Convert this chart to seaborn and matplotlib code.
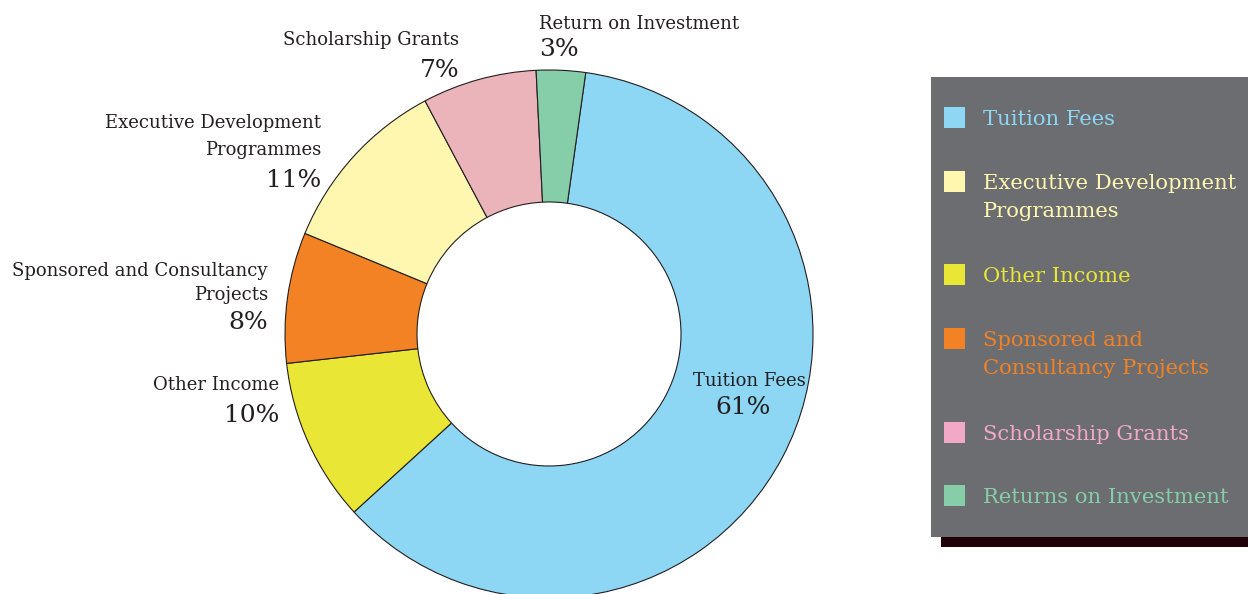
import matplotlib
matplotlib.use("Agg")
import matplotlib.pyplot as plt
from matplotlib.patches import Rectangle
import seaborn as sns

# ---- data ----
categories = ["Tuition Fees", "Other Income", "Sponsored and Consultancy Projects",
              "Executive Development Programmes", "Scholarship Grants", "Return on Investment"]
shares = [61, 10, 8, 11, 7, 3]
slice_colors = ["#8dd7f5", "#e9e635", "#f28223", "#fff7b0", "#ebb4ba", "#86cdaa"]

legend_labels = ["Tuition Fees", "Executive Development\nProgrammes", "Other Income",
                 "Sponsored and\nConsultancy Projects", "Scholarship Grants",
                 "Returns on Investment"]
legend_colors = ["#8dd7f5", "#fff7b0", "#e9e635", "#f28223", "#f2a8c9", "#86cdaa"]

sns.set_theme(style="white")
plt.rcParams["font.family"] = ["DejaVu Serif"]

W, H = 1248, 594
fig = plt.figure(figsize=(W / 100, H / 100), dpi=100)
ax = fig.add_axes([0, 0, 1, 1])

def Y(py):
    return H - py

cx, cy, R = 549, 334, 264
ax.pie(shares, colors=slice_colors, startangle=82, counterclock=False,
       center=(cx, Y(cy)), radius=R, frame=True,
       wedgeprops=dict(width=R * 0.5, edgecolor="#231f20", linewidth=0.8))
ax.set_xlim(0, W)
ax.set_ylim(0, H)
ax.set_aspect("auto")
ax.axis("off")

tc = "#231f20"
fs_lab = 13
fs_pct = 18

def lab(x, base, s, ha, size):
    ax.text(x, Y(base), s, ha=ha, va="baseline", fontsize=size, color=tc)

# Scholarship
lab(459, 45, "Scholarship Grants", "right", fs_lab)
lab(459, 77, f"{shares[4]}%", "right", fs_pct)
# Executive
lab(321, 128, "Executive Development", "right", fs_lab)
lab(321, 155, "Programmes", "right", fs_lab)
lab(321, 187, f"{shares[3]}%", "right", fs_pct)
# Sponsored
lab(268, 276, "Sponsored and Consultancy", "right", fs_lab)
lab(268, 300, "Projects", "right", fs_lab)
lab(268, 329, f"{shares[2]}%", "right", fs_pct)
# Other income
lab(279, 390, "Other Income", "right", fs_lab)
lab(279, 422, f"{shares[1]}%", "right", fs_pct)
# Tuition
lab(749, 386, "Tuition Fees", "center", fs_lab)
lab(743, 414, f"{shares[0]}%", "center", fs_pct)
# Return
lab(539, 29, "Return on Investment", "left", fs_lab)
lab(539, 56, f"{shares[5]}%", "left", fs_pct)

# ---- legend panel ----
ax.add_patch(Rectangle((941, Y(547)), 320, 20, facecolor="#200008", edgecolor="none"))
ax.add_patch(Rectangle((931, Y(537)), 320, 460, facecolor="#6c6d71", edgecolor="none"))
entry_y = [117, 181, 274, 338, 432, 495]
for lbl, col, ey in zip(legend_labels, legend_colors, entry_y):
    ax.add_patch(Rectangle((944, Y(ey + 10.5)), 21, 21, facecolor=col, edgecolor="none"))
    for i, line in enumerate(lbl.split("\n")):
        ax.text(983, Y(ey + 8 + 28 * i), line, ha="left", va="baseline",
                fontsize=15.2, color=col)

fig.savefig("out.png", dpi=100)
